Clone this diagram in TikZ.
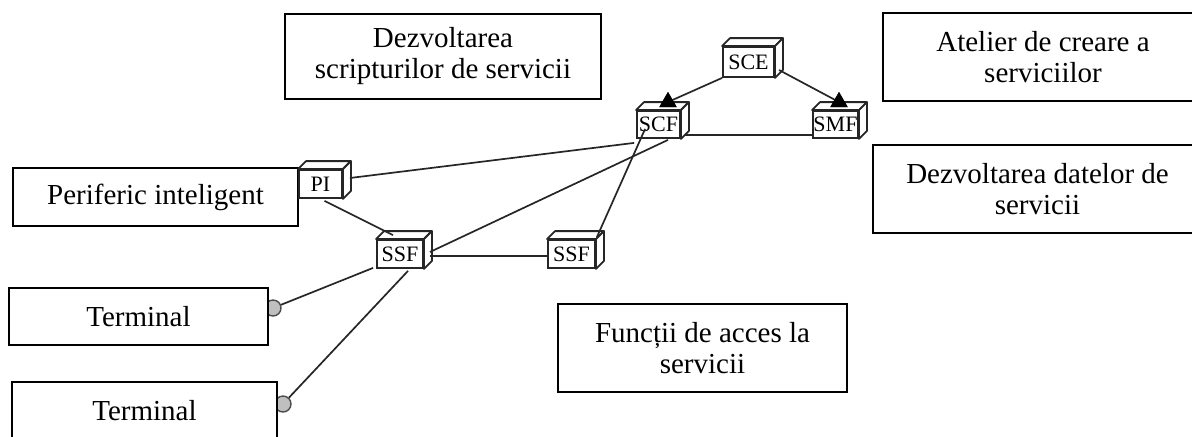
\documentclass[tikz,border=0pt]{standalone}
\usepackage{fontspec}
\setmainfont{Liberation Serif}
\usetikzlibrary{calc,shapes.geometric}
\newcommand{\boxfaces}[1]{%
  \filldraw[cubeline, fill=white] (#1.north west) -- ++(8,-8) -- ($(#1.north east)+(8,-8)$) -- (#1.north east) -- cycle;
  \filldraw[cubeline, fill=white] (#1.north east) -- ($(#1.north east)+(8,-8)$) -- ($(#1.south east)+(8,-8)$) -- (#1.south east) -- cycle;}
\begin{document}
\begin{tikzpicture}[x=0.5pt,y=-0.5pt,
  lbox/.style={draw=black, line width=1.1pt, fill=white, inner sep=0pt, align=center, font=\fontsize{14.5pt}{15.5pt}\selectfont},
  cube/.style={draw=black!85, line width=0.9pt, fill=white, inner sep=0pt, font=\fontsize{11pt}{11pt}\selectfont},
  cubeline/.style={draw=black!85, line width=0.9pt, line join=round},
  link/.style={draw=black!85, line width=0.85pt},
  tri/.style={regular polygon, regular polygon sides=3, fill=black, inner sep=0pt, minimum size=10pt},
  term/.style={circle, draw=black!70, fill=black!25, line width=0.7pt, inner sep=0pt, minimum size=8pt}]
\clip (0,0) rectangle (1192,436);
\fill[white] (0,0) rectangle (1192,436);

% terminal connectors (circles behind boxes)
\node[term] (c1) at (273,308) {};
\node[term] (c2) at (283,404) {};

% text boxes
\node[lbox, minimum width=158pt, minimum height=42.5pt] (scr) at (443,56.5) {Dezvoltarea\\scripturilor de servicii};
\node[lbox, minimum width=160pt, minimum height=44pt] (atel) at (1043,57) {Atelier de creare a\\serviciilor};
\node[lbox, minimum width=164.5pt, minimum height=44pt] (date) at (1037.5,189) {Dezvoltarea datelor de\\servicii};
\node[lbox, minimum width=144.5pt, minimum height=44pt] (func) at (702.5,348) {Funcții de acces la\\servicii};
\node[lbox, minimum width=142.5pt, minimum height=29pt] (peri) at (155.5,197) {Periferic inteligent};
\node[lbox, minimum width=129.5pt, minimum height=28.5pt] (term1) at (138.5,316.5) {Terminal};
\node[lbox, minimum width=132.5pt, minimum height=29pt] (term2) at (144.5,411) {Terminal};

% cubes
\node[cube, minimum width=25.5pt, minimum height=15pt] (sce) at (748.5,62) {SCE};
\boxfaces{sce}
\node[cube, minimum width=21.5pt, minimum height=13.5pt] (scf) at (658.5,124.5) {SCF};
\boxfaces{scf}
\node[cube, minimum width=22.5pt, minimum height=13.5pt] (smf) at (835.5,124.5) {SMF};
\boxfaces{smf}
\node[cube, minimum width=21.5pt, minimum height=14pt] (pi) at (320.5,184) {PI};
\boxfaces{pi}
\node[cube, minimum width=23pt, minimum height=14pt] (ssfa) at (400,254) {SSF};
\boxfaces{ssfa}
\node[cube, minimum width=23.5pt, minimum height=14pt] (ssfb) at (571.5,254) {SSF};
\boxfaces{ssfb}

% arrow heads (triangles)
\node[tri] (tscf) at (668,102) {};
\node[tri] (tsmf) at (839,102) {};
\coordinate (sceR) at (779,70);

% connectors
\draw[link] (sce.south west) -- (tscf.center);
\draw[link] (sceR) -- (tsmf.center);
\draw[link] ($(scf.south east)+(4,-4)$) -- ($(smf.south west)+(0,-4)$);
\draw[link] ($(pi.east)+(7,-6)$) -- ($(scf.south west)+(-2,4)$);
\draw[link] ($(pi.south)+(4,2)$) -- ($(ssfa.north)+(-7,-4)$);
\draw[link] ($(ssfa.east)+(6,-2)$) -- ($(scf.south)+(9.5,1)$);
\draw[link] ($(ssfb.north east)+(1,-2)$) -- ($(scf.south west)+(9,-10)$);
\draw[link] ($(ssfa.east)+(6,2)$) -- ($(ssfb.west)+(0,2)$);
\draw[link] (c1) -- ($(ssfa.south west)+(-3,-1)$);
\draw[link] (c2) -- ($(ssfa.south)+(8,2)$);
\node[tri] at (tscf) {};
\node[tri] at (tsmf) {};
\end{tikzpicture}
\end{document}
